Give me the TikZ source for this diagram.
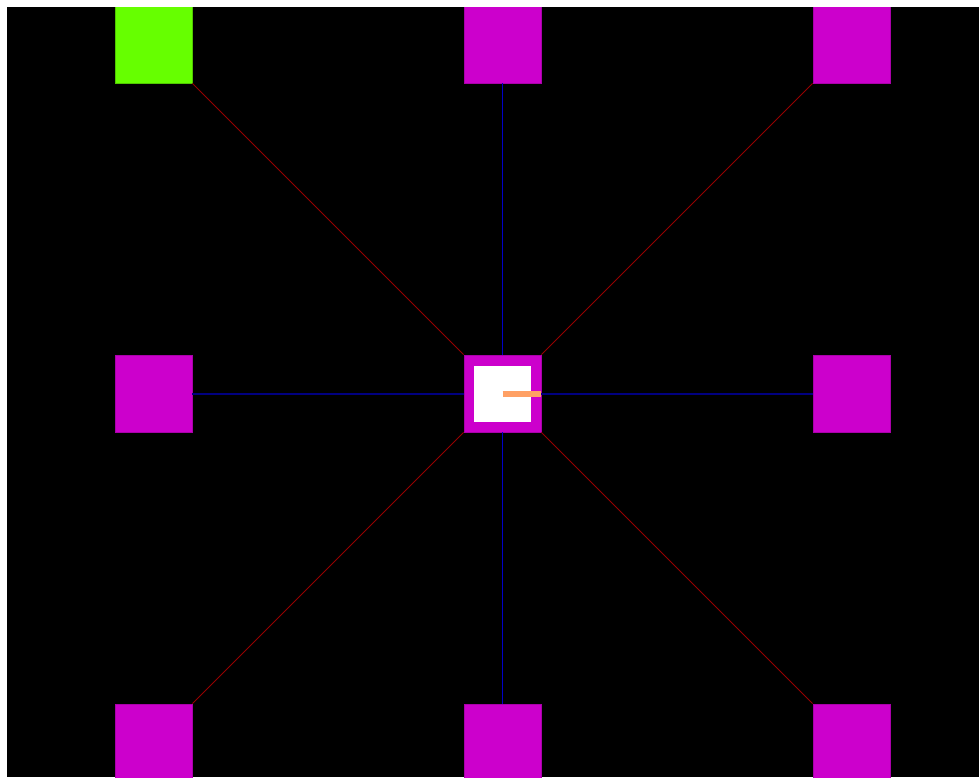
\documentclass[tikz,border=0pt]{standalone}
\definecolor{mag}{RGB}{204,0,204}
\definecolor{magedge}{RGB}{170,0,170}
\definecolor{lime}{RGB}{102,255,0}
\definecolor{limeedge}{RGB}{80,200,0}
\definecolor{diagred}{RGB}{150,0,0}
\definecolor{navyline}{RGB}{0,0,128}
\definecolor{vblue}{RGB}{0,0,200}
\definecolor{bar}{RGB}{255,160,100}
\begin{document}
\begin{tikzpicture}[x=1pt,y=-1pt,
  sq/.style={rectangle, minimum width=77pt, minimum height=77pt, inner sep=0pt, fill=mag, draw=magedge, line width=0.8pt},
  greensq/.style={sq, fill=lime, draw=limeedge},
  diag/.style={draw=diagred, line width=0.9pt},
  hline/.style={draw=navyline, line width=2pt},
  vline/.style={draw=vblue, line width=0.5pt},
  inner/.style={rectangle, minimum width=57pt, minimum height=56pt, inner sep=0pt, fill=white},
  barline/.style={draw=bar, line width=6pt}]
\useasboundingbox (0,0) rectangle (979,777);
\fill[white] (0,0) rectangle (979,777);
\fill[black] (7,7) rectangle (979,777);
\begin{scope}
\clip (7,7) rectangle (979,777);
\node[greensq] (tl) at (153.5,44.5) {};
\node[sq] (tm) at (502.5,44.5) {};
\node[sq] (tr) at (851.5,44.5) {};
\node[sq] (ml) at (153.5,393.5) {};
\node[sq] (c) at (502.5,393.5) {};
\node[sq] (mr) at (851.5,393.5) {};
\node[sq] (bl) at (153.5,742.5) {};
\node[sq] (bm) at (502.5,742.5) {};
\node[sq] (br) at (851.5,742.5) {};
\node[inner] (ci) at (502.5,393.5) {};
\draw[diag] (tl.south east) -- (c.north west);
\draw[diag] (tr.south west) -- (c.north east);
\draw[diag] (bl.north east) -- (c.south west);
\draw[diag] (br.north west) -- (c.south east);
\draw[hline] (ml.east) -- (c.west);
\draw[hline] (c.east) -- (mr.west);
\draw[vline] (tm.south) -- (c.north);
\draw[vline] (c.south) -- (bm.north);
\draw[barline] (c.center) -- (c.east);
\end{scope}
\end{tikzpicture}
\end{document}
